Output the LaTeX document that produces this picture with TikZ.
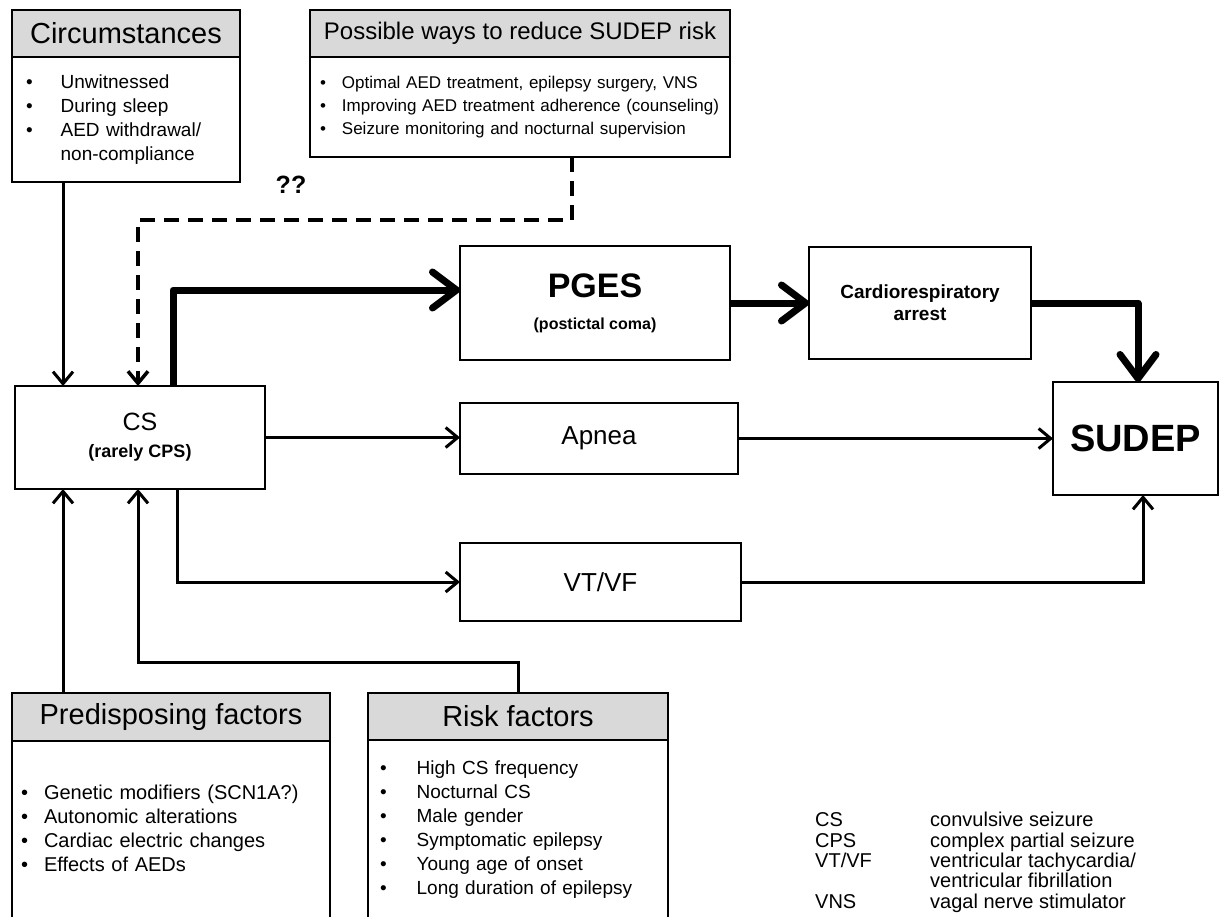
\documentclass[tikz,border=0pt]{standalone}
\usepackage{fontspec}
\setmainfont{Liberation Sans}
\usetikzlibrary{arrows.meta}

\begin{document}
\begin{tikzpicture}[x=1pt,y=-1pt,
  box/.style={draw,line width=2.5pt,inner sep=0pt,outer sep=0pt,anchor=north west},
  head/.style={box,fill=black!15},
  body/.style={box,align=left,inner xsep=#1},
  arr/.style={line width=3pt,-{Straight Barb[length=12pt,width=20pt]}},
  fat/.style={line width=7pt,line join=round,-{Straight Barb[length=24pt,width=36pt,round]}},
  hint/.style={line width=3.5pt,dash pattern=on 15pt off 9pt,-{Straight Barb[length=12pt,width=20pt]}}]
\useasboundingbox (0,0) rectangle (1220,916);

\node[head,minimum width=228,minimum height=47,font=\fontsize{29}{34}\selectfont] (circhead) at (12,10) {Circumstances};
\node[body=14,text width=200,minimum height=125,font=\fontsize{19}{24}\selectfont] (circbody) at (circhead.south west)
  {\begin{tabular}{@{}l@{\hspace{28pt}}l@{}}\textbullet&Unwitnessed\\\textbullet&During sleep\\\textbullet&AED withdrawal/\\&non-compliance\end{tabular}};

\node[head,minimum width=420,minimum height=47,font=\fontsize{24}{28}\selectfont] (posshead) at (310,10) {Possible ways to reduce SUDEP risk};
\node[body=10,text width=400,minimum height=100,font=\fontsize{17}{23}\selectfont] (possbody) at (posshead.south west)
  {\begin{tabular}{@{}l@{\hspace{16pt}}l@{}}\textbullet&Optimal AED treatment, epilepsy surgery, VNS\\\textbullet&Improving AED treatment adherence (counseling)\\\textbullet&Seizure monitoring and nocturnal supervision\end{tabular}};

\node[font=\bfseries\fontsize{25}{28}\selectfont] (qq) at (291,185) {??};

\node[box,minimum width=250,minimum height=103,align=center,font=\fontsize{25}{27}\selectfont] (cs) at (15,386)
  {CS\\\bfseries\fontsize{18}{27}\selectfont (rarely CPS)};
\node[box,minimum width=270,minimum height=114,align=center,font=\fontsize{34}{32}\selectfont] (pges) at (460,246)
  {\bfseries PGES\\\bfseries\fontsize{16}{32}\selectfont (postictal coma)};
\node[box,minimum width=222,minimum height=112,align=center,font=\bfseries\fontsize{19}{22}\selectfont] (cardio) at (809,247)
  {Cardiorespiratory\\arrest};
\node[box,minimum width=165,minimum height=113,font=\bfseries\fontsize{38}{44}\selectfont] (sudep) at (1053,382) {SUDEP};
\node[box,minimum width=278,minimum height=71,font=\fontsize{26}{30}\selectfont] (apnea) at (460,403) {Apnea};
\node[box,minimum width=281,minimum height=78,font=\fontsize{26}{30}\selectfont] (vtvf) at (460,543) {VT/VF};

\node[head,minimum width=318,minimum height=48,font=\fontsize{29}{34}\selectfont] (predhead) at (12,693) {Predisposing factors};
\node[body=9,text width=300,minimum height=180,font=\fontsize{20}{24}\selectfont] (predbody) at (predhead.south west)
  {\begin{tabular}{@{}l@{\hspace{16pt}}l@{}}\textbullet&Genetic modifiers (SCN1A?)\\\textbullet&Autonomic alterations\\\textbullet&Cardiac electric changes\\\textbullet&Effects of AEDs\end{tabular}};

\node[head,minimum width=300,minimum height=47,font=\fontsize{29}{34}\selectfont] (riskhead) at (368,693) {Risk factors};
\node[body=12,text width=276,minimum height=180,font=\fontsize{19}{24}\selectfont] (riskbody) at (riskhead.south west)
  {\begin{tabular}{@{}l@{\hspace{30pt}}l@{}}\textbullet&High CS frequency\\\textbullet&Nocturnal CS\\\textbullet&Male gender\\\textbullet&Symptomatic epilepsy\\\textbullet&Young age of onset\\\textbullet&Long duration of epilepsy\end{tabular}};

\node[anchor=north west,inner sep=0pt,font=\fontsize{20}{19.5}\selectfont] (legend) at (815,812)
  {\begin{tabular}{@{}p{115pt}@{}l@{}}CS&convulsive seizure\\CPS&complex partial seizure\\VT/VF&ventricular tachycardia/\\&ventricular fibrillation\\VNS&vagal nerve stimulator\end{tabular}};

\draw[arr] ([xshift=51]circbody.south west) -- ([xshift=48]cs.north west);
\draw[hint] ([xshift=262]possbody.south west) -- ++(0,63) -| ([xshift=123]cs.north west);
\draw[fat] ([xshift=158]cs.north west) |- ([yshift=13]pges.west);
\draw[fat] (pges.east) -- (cardio.west);
\draw[fat] (cardio.east) -| ([xshift=85]sudep.north west);
\draw[arr] (cs.east) -- (cs.east -| apnea.west);
\draw[arr] (apnea.east) -- (apnea.east -| sudep.west);
\draw[arr] ([xshift=162]cs.south west) |- (vtvf.west);
\draw[arr] (vtvf.east) -| ([xshift=90]sudep.south west);
\draw[arr] ([xshift=51]predhead.north west) -- ([xshift=48]cs.south west);
\draw[arr] (riskhead.north) -- ++(0,-31) -| ([xshift=123]cs.south west);
\end{tikzpicture}
\end{document}
